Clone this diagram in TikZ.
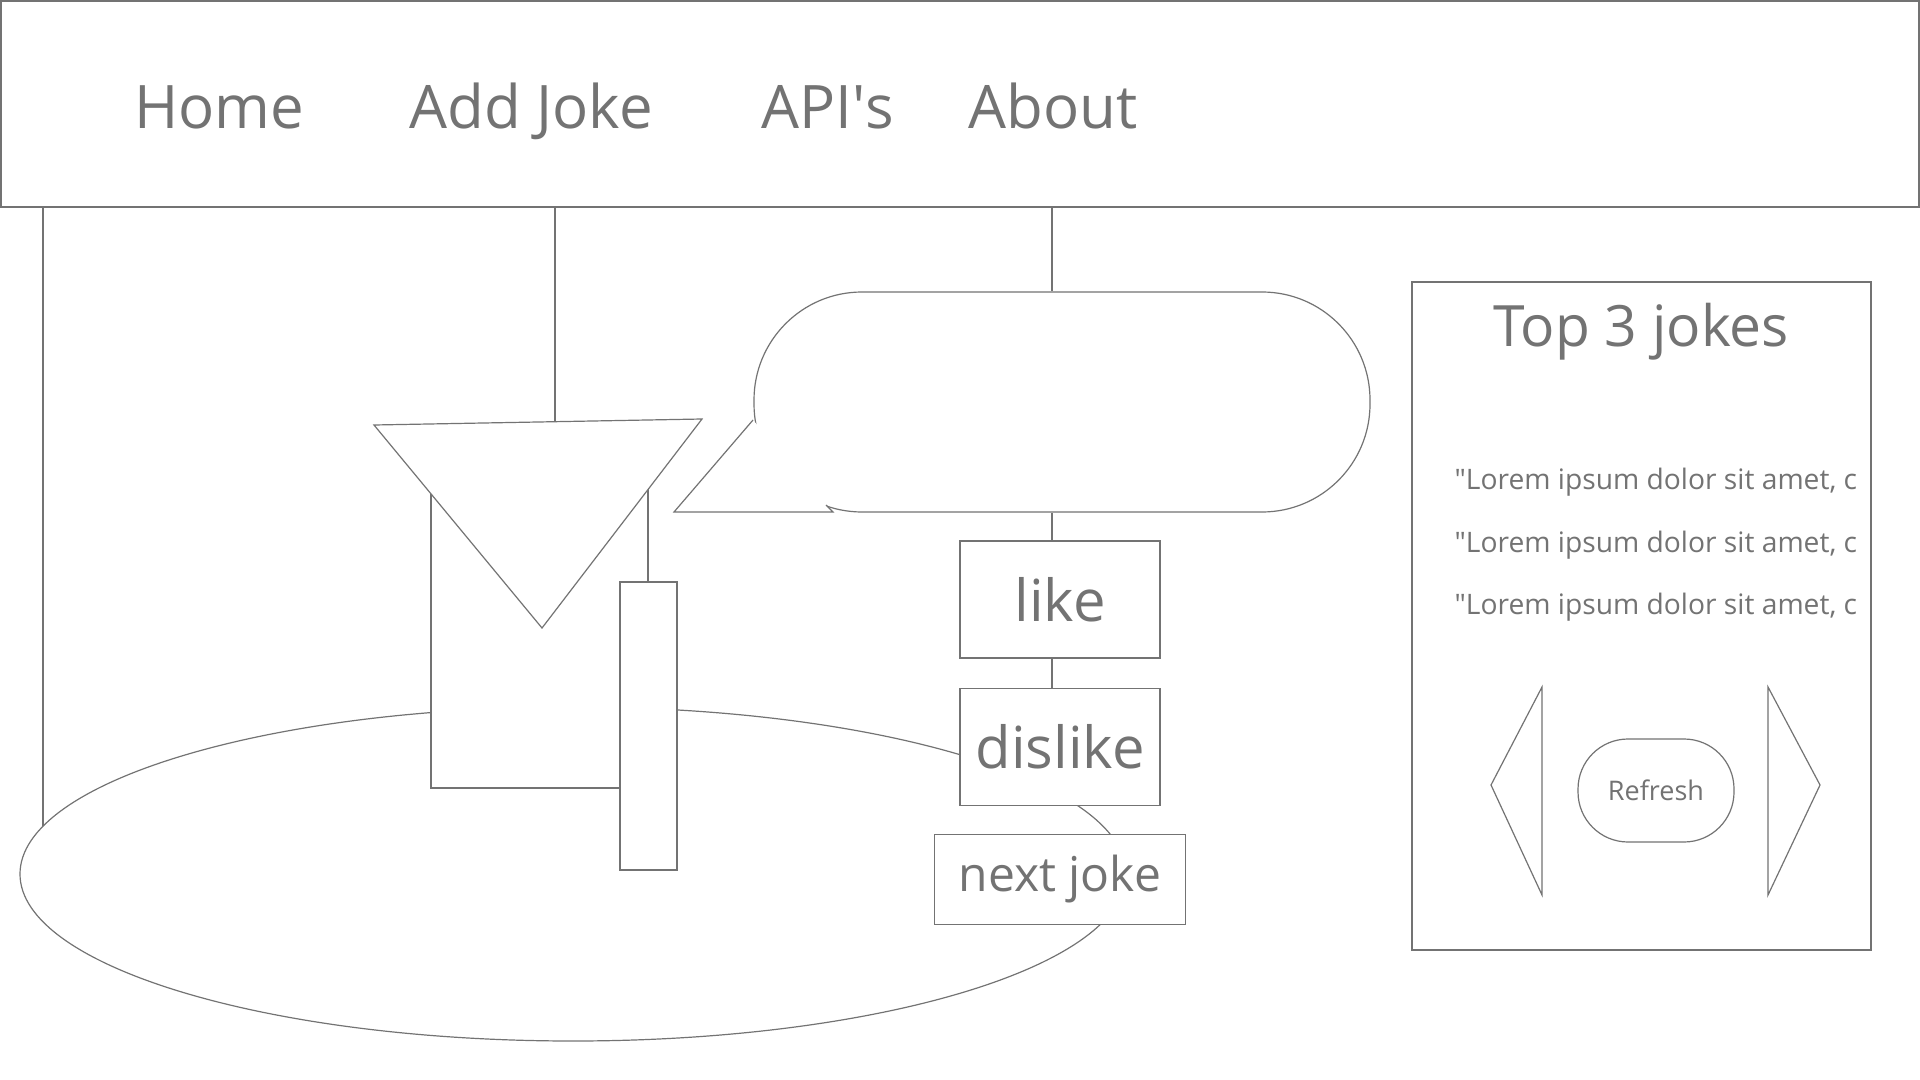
\documentclass[tikz,border=0pt]{standalone}
\usepackage{fontspec}
\setmainfont{Open Sans}
\usetikzlibrary{positioning,shapes.geometric}
\definecolor{wiregray}{RGB}{115,115,115}

\begin{document}
\begin{tikzpicture}[x=0.5pt, y=-0.5pt, line width=0.6pt, color=wiregray,
    panel/.style={rectangle, draw, fill=white, inner sep=0pt},
    btn/.style={panel, minimum width=100pt, minimum height=58.5pt, font=\fontsize{29pt}{34pt}\selectfont},
    menu/.style={anchor=base, inner sep=0pt, font=\fontsize{30pt}{36pt}\selectfont},
    quote/.style={anchor=base west, inner sep=0pt, font=\fontsize{14.1pt}{17pt}\selectfont}]
    \useasboundingbox (0,0) rectangle (1920,1080);

    % plate
    \node[ellipse, draw, minimum width=553pt, minimum height=167pt, inner sep=0pt] (plate) at (573,874) {};
    \coordinate (rim) at (43,826);

    % menu bar
    \node[panel, minimum width=959pt, minimum height=103pt] (nav) at (960,104) {};
    \node[menu] (home)    at (219,129)  {Home};
    \node[menu] (addjoke) at (531,129)  {Add Joke};
    \node[menu] (apis)    at (828,129)  {API\textquotesingle s};
    \node[menu] (about)   at (1053,129) {About};

    % figure
    \node[panel, minimum width=108.5pt, minimum height=169pt] (body)   at (539.5,619) {};
    \node[panel, minimum width=28.5pt,  minimum height=144pt] (handle) at (648.5,726) {};
    \draw[fill=white] (374,425) -- (702,419) -- (542,628) -- cycle;
    \coordinate (funnel) at (555,422);

    % speech bubble
    \node[panel, rounded corners=54pt, minimum width=308pt, minimum height=110pt] (bubble) at (1062,402) {};
    \path[draw, fill=white] (753,420) -- (674,512) -- (833,512) -- (826,505);

    % buttons
    \node[btn] (like) at (1060,599.5) {like};
    \node[btn] (dislike) [below=14.5pt of like] {dislike};
    \node[panel, minimum width=125.5pt, minimum height=45pt,
          font=\fontsize{24pt}{29pt}\selectfont] (next) [below=14pt of dislike] {next joke};

    \coordinate (col) at (1052,0);
    \draw (nav.south -| rim) -- (rim);
    \draw (nav.south -| funnel) -- (funnel);
    \draw (nav.south -| col) -- (bubble.north -| col);
    \draw (bubble.south -| col) -- (like.north -| col);
    \draw (like.south -| col) -- (dislike.north -| col);

    % top 3 panel
    \node[panel, minimum width=229.5pt, minimum height=334pt] (top) at (1641.5,616) {};
    \node[menu, font=\fontsize{28.5pt}{34pt}\selectfont] (toptitle) at (1641,347) {Top 3 jokes};
    \foreach \y in {489,552,614}
        \node[quote] (joke\y) at (1454,\y) {\textquotedbl Lorem ipsum dolor sit amet, c};
    \draw (1491,785) -- (1542,687) -- (1542,895) -- cycle;
    \draw (1768,687) -- (1820,785) -- (1768,895) -- cycle;
    \node[panel, rounded corners=25pt, minimum width=78pt, minimum height=51.5pt,
          font=\fontsize{13.5pt}{16pt}\selectfont] (refresh) at (1656,790.5) {Refresh};
\end{tikzpicture}
\end{document}
